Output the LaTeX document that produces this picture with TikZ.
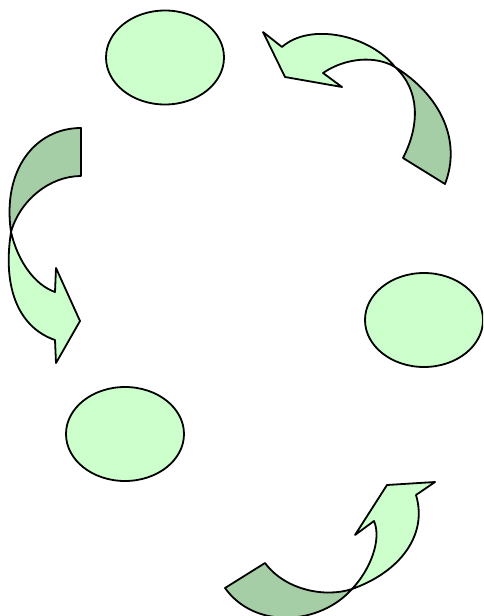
\documentclass[tikz,border=0pt]{standalone}
\usetikzlibrary{shapes.geometric}
\definecolor{lightg}{HTML}{CCFFCC}
\definecolor{darkg}{HTML}{A6CEA6}
\tikzset{
  blob/.style={ellipse, draw=black, line width=1.8pt, fill=lightg, minimum width=118pt, minimum height=94pt, inner sep=0pt},
  front/.style={draw=black, line width=1.8pt, fill=lightg, line join=round},
  back/.style={draw=black, line width=1.8pt, fill=darkg, line join=round},
}
\begin{document}
\begin{tikzpicture}[x=1pt,y=-1pt]
\useasboundingbox (0,0) rectangle (483,616);
\clip (0,0) rectangle (483,616);
% ellipses
\node[blob] (top) at (165,57.5) {};
\node[blob] (right) at (424,320) {};
\node[blob] (left) at (125,434) {};
% top-right arrow
\filldraw[back] (403,158) .. controls (420,125) and (420,90) .. (395,67)
  .. controls (440,95) and (462,140) .. (445,184) -- cycle;
\filldraw[front] (395,67) .. controls (370,35) and (310,22) .. (282,47)
  -- (263,32) -- (285,77) -- (342,87) -- (323,73)
  .. controls (345,58) and (375,55) .. (395,67) -- cycle;
% left arrow
\filldraw[back] (81,128) -- (81,176)
  .. controls (50,176) and (20,200) .. (11,232)
  .. controls (2,170) and (35,128) .. (81,128) -- cycle;
\filldraw[front] (11,232) .. controls (18,262) and (35,285) .. (55,292)
  -- (56,268) -- (80,321) -- (56,363) -- (55,340)
  .. controls (20,328) and (2,290) .. (11,232) -- cycle;
% bottom arrow
\filldraw[back] (225,588) -- (265,563)
  .. controls (285,590) and (325,598) .. (352,589)
  .. controls (320,625) and (255,630) .. (225,588) -- cycle;
\filldraw[front] (352,589) .. controls (370,570) and (382,540) .. (374,521)
  -- (355,535) -- (387,485) -- (435,482) -- (416,495)
  .. controls (428,535) and (400,572) .. (352,589) -- cycle;
\end{tikzpicture}
\end{document}
